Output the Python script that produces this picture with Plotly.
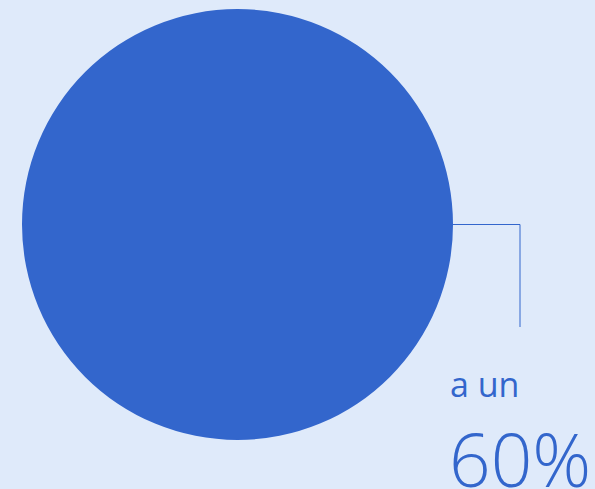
import plotly.graph_objects as go

# data
labels = ["a un"]
values = [60]
value_text = ["60%"]

BLUE = "#3366CC"
BG = "#DFEAFA"
W, H = 595, 489

# pie geometry (pixels)
cx, cy, r = 237.5, 224.5, 215.5

fig = go.Figure()
fig.add_trace(go.Pie(labels=labels, values=values,
                     marker=dict(colors=[BLUE], line=dict(width=0)),
                     textinfo="none", sort=False, showlegend=False,
                     hoverinfo="label+value",
                     domain=dict(x=[(cx - r) / W, (cx + r) / W],
                                 y=[1 - (cy + r) / H, 1 - (cy - r) / H])))

# callout line from the right edge of the slice
x0 = (cx + r) / W
x1 = 520 / W
y0 = 1 - cy / H
y1 = 1 - 327 / H
fig.add_shape(type="path", xref="paper", yref="paper",
              path=f"M {x0},{y0} L {x1},{y0} L {x1},{y1}",
              line=dict(color=BLUE, width=1))

fig.add_annotation(text=labels[0], xref="paper", yref="paper",
                   x=448 / W, y=1 - 384 / H, xanchor="left", yanchor="middle",
                   showarrow=False,
                   font=dict(family="Open Sans", size=34, color=BLUE))
fig.add_annotation(text=value_text[0], xref="paper", yref="paper",
                   x=447 / W, y=1 - 458 / H, xanchor="left", yanchor="middle",
                   showarrow=False,
                   font=dict(family="Open Sans", size=73, color=BLUE, weight=300))

fig.update_layout(width=W, height=H, margin=dict(l=0, r=0, t=0, b=0),
                  paper_bgcolor=BG, plot_bgcolor=BG)

fig.write_html("out.html", config={"displayModeBar": False},
               post_script="document.body.style.margin='0';document.body.style.overflow='hidden';")
